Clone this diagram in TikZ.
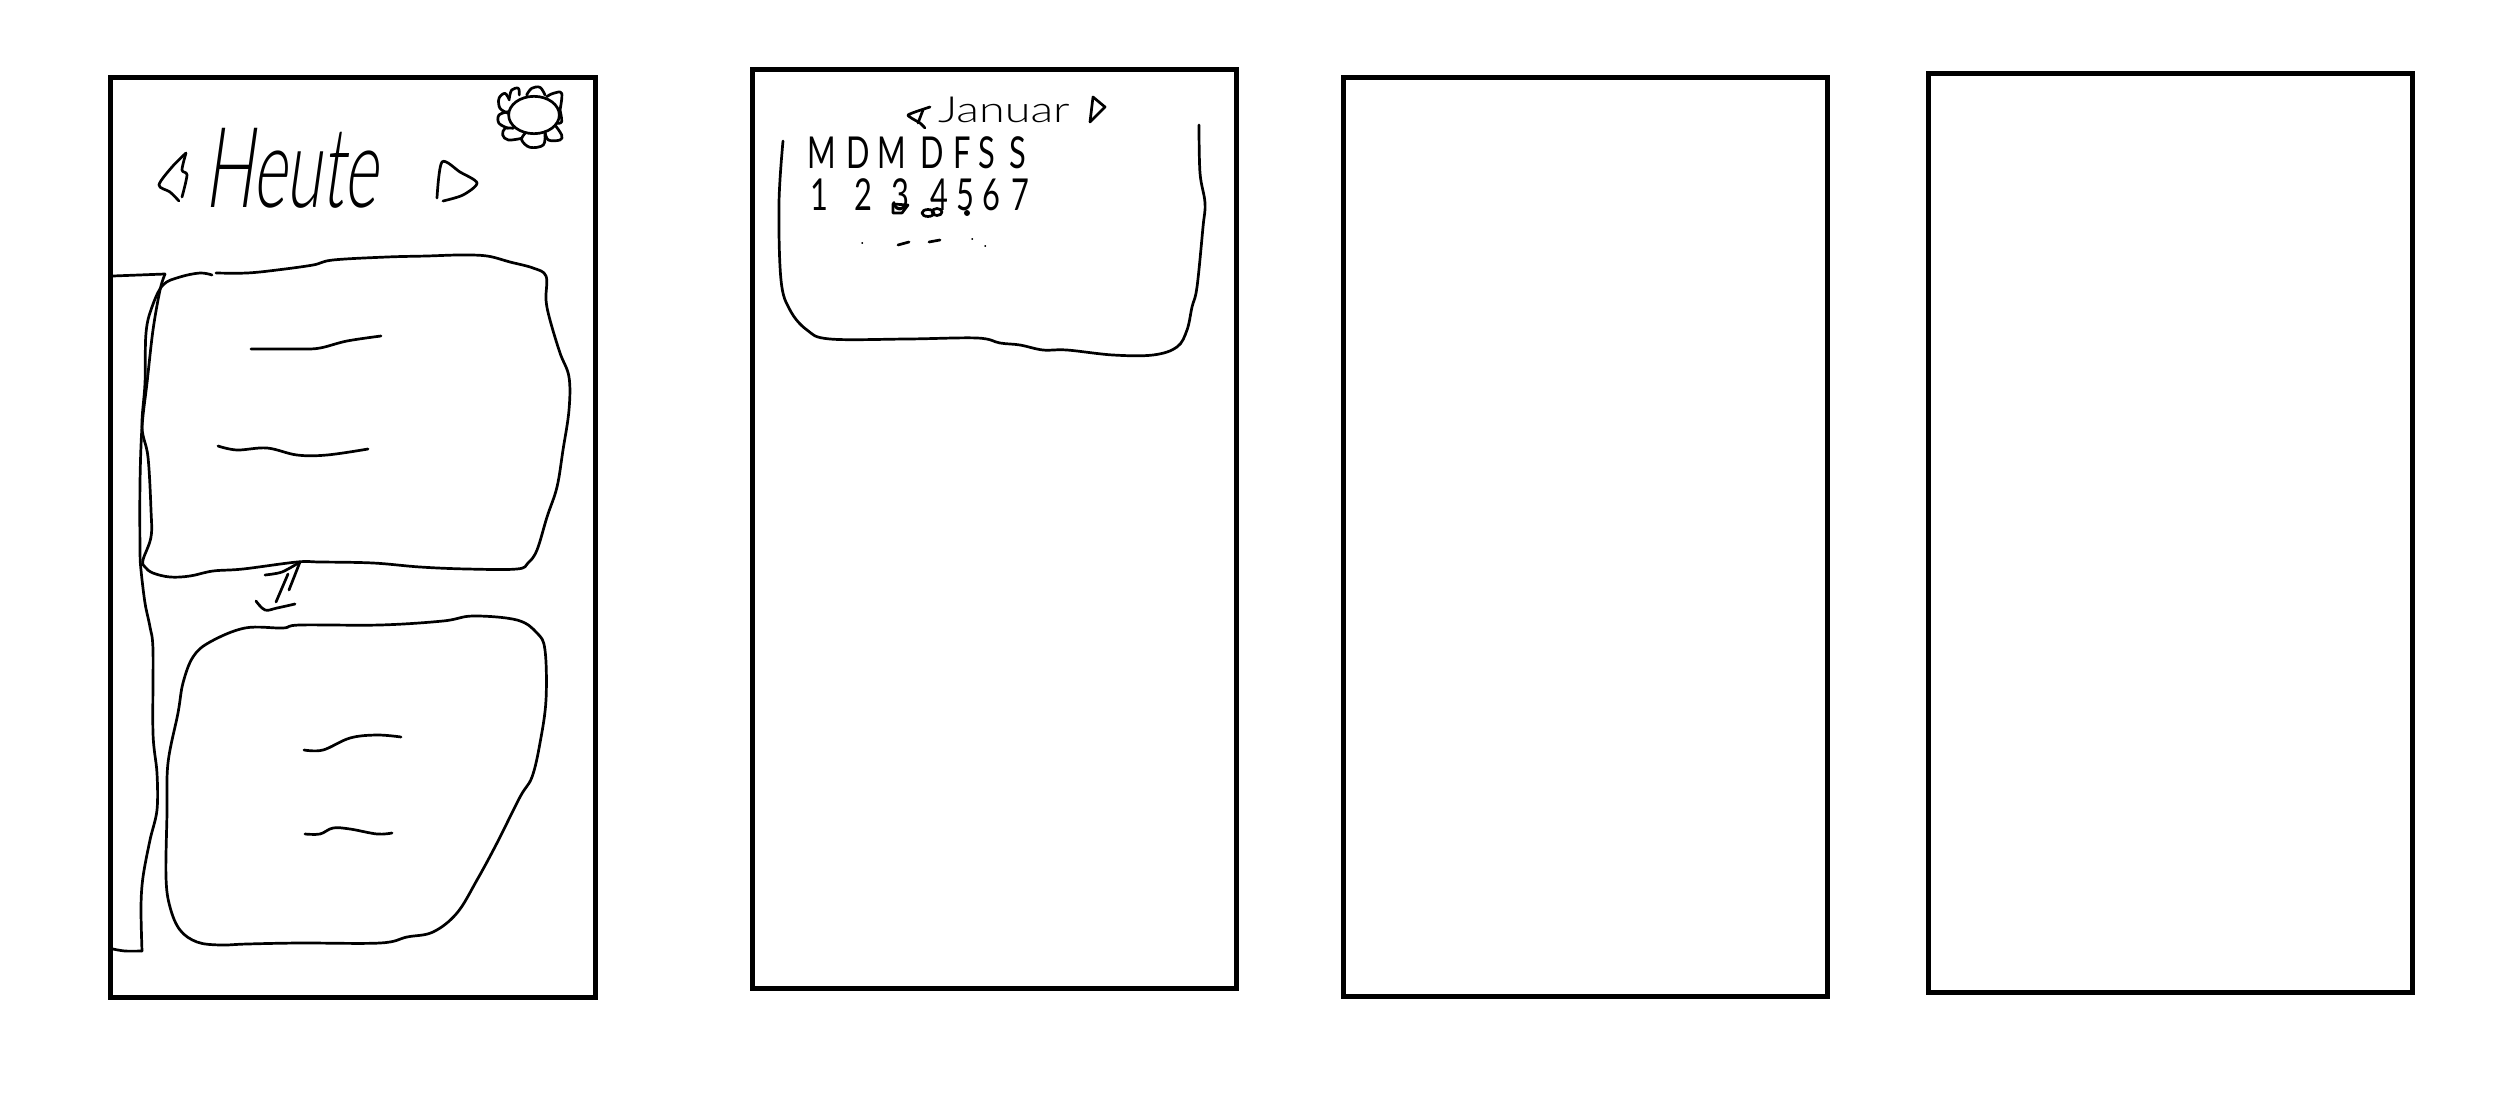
\documentclass[tikz,border=0pt]{standalone}
\usepackage{fontspec}
\IfFontExistsTF{Lato Light}{\newcommand\handfam{Lato Light}}{\newcommand\handfam{Lato}}
\newfontfamily\handbig[FakeStretch=0.58,FakeSlant=0.14]{\handfam}
\newfontfamily\handmid[FakeStretch=1.3]{\handfam}
\newfontfamily\handsml[FakeStretch=0.7]{Lato}
\newcommand\ltr[2]{\makebox[0pt]{#1}\hspace{#2pt}}
\tikzset{
  x=1pt,y=-1pt,
  frameb/.style={draw=black,line width=5pt,line join=miter},
  ink/.style={draw=black,line width=2.7pt,line cap=round,line join=round},
  thinink/.style={draw=black,line width=1.4pt,line cap=round},
  hand/.style={inner sep=0pt,outer sep=0pt,text=black},
}
\begin{document}
\begin{tikzpicture}
\useasboundingbox (0,0) rectangle (2497,1103);
% frames
\draw[frameb] (110,77.5) rectangle (595,997);
\draw[frameb] (752,69) rectangle (1236.5,988.5);
\draw[frameb] (1343.5,77.5) rectangle (1827.5,996.5);
\draw[frameb] (1928,73) rectangle (2412.5,992.5);
% first screen: title
\node[hand,anchor=base west] (heute) at (204,207) {\handbig\fontsize{112}{112}\selectfont Heute};
\draw[ink] plot[smooth,tension=.5] coordinates {(186,153)(172,167)(159,185)(170,192)(179,201)};
\draw[ink] plot[smooth,tension=.5] coordinates {(186,153)(182,170)(187,175)(182,197)};
\draw[ink] plot[smooth,tension=.5] coordinates {(437,198)(442,162)(460,172)(477,183)(463,195)(443,201)};
% flower
\begin{scope}[shift={(100,60)},x=.33333pt,y=-.33333pt]
\draw[ink] plot[smooth,tension=.6] coordinates {(1225,160)(1200,145)(1197,115)(1215,100)(1228,120)};
\draw[ink] plot[smooth,tension=.6] coordinates {(1228,115)(1235,90)(1255,85)(1258,105)};
\draw[ink] plot[smooth,tension=.6] coordinates {(1280,105)(1295,85)(1320,82)(1335,105)};
\draw[ink] plot[smooth,tension=.6] coordinates {(1340,110)(1360,100)(1385,100)(1380,150)};
\draw[ink] plot[smooth,tension=.6] coordinates {(1380,150)(1385,185)(1370,190)};
\draw[ink] plot[smooth,tension=.6] coordinates {(1365,195)(1385,225)(1380,240)(1345,240)(1335,215)};
\draw[ink] plot[smooth,tension=.6] coordinates {(1335,220)(1330,255)(1290,262)(1265,240)(1275,220)};
\draw[ink] plot[smooth,tension=.6] coordinates {(1265,235)(1225,240)(1208,225)(1215,205)(1240,205)};
\draw[ink] plot[smooth,tension=.6] coordinates {(1225,205)(1197,190)(1197,165)(1225,155)};
\draw[ink] (1302,165) ellipse [x radius=76,y radius=56];
\end{scope}
% left bracket
\draw[ink] (113,276) -- (165,274);
\draw[ink] plot[smooth,tension=.55] coordinates {(165,274)(160,290)(153,330)(147,383)(142,427)(140,483)(140,550)(141,570)(145,603)(150,627)(153,650)(153,733)(157,773)(157,810)(150,840)(143,877)(141,907)(142,951)};
\draw[ink] plot[smooth,tension=.55] coordinates {(142,951)(125,951)(113,949)};
% first card
\draw[ink] plot[smooth,tension=.6] coordinates {(212,275)(200,273)(180,277)(163,285)(152,307)(146,333)(145,383)(142,427)(148,457)(151,510)(151,537)(143,560)(145,567)(153,573)(170,577)(190,576)(213,571)(243,569)(297,562)(320,562)(373,563)(420,567)(467,569)(517,569)(528,563)(537,550)(547,517)(557,487)(563,450)(569,410)(569,377)(560,353)(550,320)(546,300)(546,276)(533,268)(510,262)(487,256)(460,255)(427,256)(387,257)(333,260)(313,265)(277,270)(247,273)(216,273)};
\draw[ink] plot[smooth,tension=.6] coordinates {(251,349)(300,349)(320,348)(347,341)(381,336)};
\draw[ink] plot[smooth,tension=.6] coordinates {(218,446)(237,450)(267,448)(297,455)(327,455)(368,449)};
% swipe mark
\draw[ink] plot[smooth,tension=.5] coordinates {(265,575)(282,572)(300,562)};
\draw[ink] (300,562) -- (289,590);
\draw[ink] (288,574) -- (276,602);
\draw[ink] plot[smooth,tension=.6] coordinates {(256,601)(265,610)(277,608)(295,604)};
% second card
\draw[ink] plot[smooth cycle,tension=.6] coordinates {(245,628)(283,628)(300,625)(380,625)(443,621)(473,616)(517,620)(537,633)(545,650)(546,700)(540,743)(532,777)(520,797)(497,843)(477,880)(457,913)(433,932)(407,937)(380,943)(300,943)(247,944)(220,945)(197,942)(180,930)(170,907)(166,877)(167,813)(168,763)(178,713)(183,683)(193,657)(210,642)};
\draw[ink] plot[smooth,tension=.6] coordinates {(304,750)(323,750)(350,738)(377,735)(401,737)};
\draw[ink] plot[smooth,tension=.6] coordinates {(305,834)(320,834)(333,828)(350,829)(377,834)(392,833)};
% second screen
\node[hand,anchor=base west] (januar) at (938,122) {\handmid\fontsize{36}{36}\selectfont Januar};
\draw[ink] plot[smooth,tension=.3] coordinates {(930,107)(908,115)(920,123)(925,128)};
\draw[ink] (923,110) -- (918,123);
\draw[ink] (1093,97) -- (1090,122) -- (1105,107) -- cycle;
\node[hand,anchor=base] (wk) at (920,168) {\handsml\fontsize{44}{44}\selectfont\ltr{M}{36}\ltr{D}{34}\ltr{M}{40}\ltr{D}{30}\ltr{F}{25}\ltr{S}{31}\ltr{S}{0}};
\node[hand,anchor=base] (dg) at (920,210) {\handsml\fontsize{44}{44}\selectfont\ltr{1}{44}\ltr{2}{37}\ltr{3}{39}\ltr{4}{26}\ltr{5}{26}\ltr{6}{29}\ltr{7}{0}};
\draw[ink] (893,204) -- (893,213) -- (902,213) -- (908,205) -- cycle;
\draw[ink] (928,213) ellipse [x radius=6,y radius=3.5];
\draw[ink] (937,212) ellipse [x radius=5,y radius=3.5];
\fill (967,213) circle [radius=3];
\draw[ink] (898,245) -- (909,242);
\draw[ink] (929,242) -- (940,240);
\draw[thinink] (862,243) -- (862.5,243);
\draw[thinink] (972,239) -- (972.5,239);
\draw[thinink] (985,246) -- (985.5,246);
\draw[ink] plot[smooth,tension=.6] coordinates {(783,141)(779,203)(781,280)(790,310)(807,330)(830,339)(907,339)(977,338)(1000,343)(1020,345)(1043,350)(1067,350)(1113,355)(1153,355)(1177,347)(1187,330)(1192,307)(1197,287)(1203,227)(1205,203)(1200,173)(1199,125)};
\end{tikzpicture}
\end{document}
